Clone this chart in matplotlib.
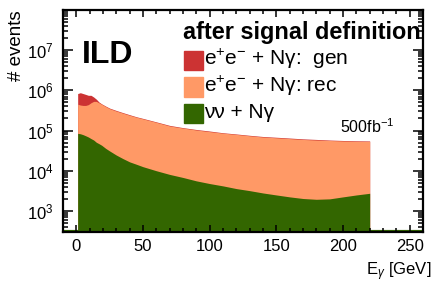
import matplotlib
matplotlib.use("Agg")
import matplotlib.pyplot as plt
from matplotlib.patches import Rectangle
from matplotlib.ticker import LogLocator, NullFormatter, MultipleLocator
import numpy as np

plt.rcParams["font.family"] = ["Liberation Sans", "DejaVu Sans"]
plt.rcParams["mathtext.fontset"] = "custom"
plt.rcParams["mathtext.rm"] = "Liberation Sans"
plt.rcParams["mathtext.it"] = "Liberation Sans:italic"

# photon energy [GeV]
e_gamma = [1, 3, 5, 7, 9, 11, 13, 15, 17, 19, 22, 25, 30, 35, 40, 45, 50,
           60, 70, 80, 90, 100, 110, 120, 130, 140, 150, 160, 170, 180, 190,
           200, 210, 220]
# e+e- + N gamma, generator level
ee_gen = [8.3e5, 8.7e5, 8.3e5, 7.9e5, 7.5e5, 7.5e5, 6.8e5, 6.0e5, 5.1e5, 4.6e5,
          4.05e5, 3.6e5, 3.15e5, 2.78e5, 2.47e5, 2.2e5, 2.0e5,
          1.64e5, 1.34e5, 1.18e5, 1.06e5, 9.7e4, 8.8e4, 8.2e4, 7.6e4, 7.1e4,
          6.8e4, 6.5e4, 6.2e4, 6.0e4, 5.8e4, 5.65e4, 5.55e4, 5.5e4]
# e+e- + N gamma, reconstructed
ee_rec = [4.5e5, 4.3e5, 4.2e5, 4.2e5, 4.4e5, 4.9e5, 5.3e5, 5.3e5, 4.9e5, 4.5e5,
          3.95e5, 3.5e5, 3.05e5, 2.7e5, 2.4e5, 2.15e5, 1.95e5,
          1.6e5, 1.3e5, 1.15e5, 1.03e5, 9.4e4, 8.6e4, 8.0e4, 7.4e4, 6.9e4,
          6.6e4, 6.3e4, 6.0e4, 5.8e4, 5.65e4, 5.5e4, 5.4e4, 5.35e4]
# nu nu + N gamma
nunu = [8.5e4, 8.3e4, 7.9e4, 7.4e4, 6.9e4, 6.3e4, 5.8e4, 5.1e4, 4.7e4, 4.3e4,
        3.6e4, 3.1e4, 2.45e4, 2.0e4, 1.66e4, 1.45e4, 1.26e4,
        1.0e4, 8.1e3, 6.8e3, 5.6e3, 4.8e3, 4.2e3, 3.6e3, 3.2e3, 2.8e3,
        2.5e3, 2.24e3, 2.04e3, 1.95e3, 2.0e3, 2.24e3, 2.5e3, 2.75e3]

RED = "#CC3333"
ORANGE = "#FF9966"
GREEN = "#336600"
YMIN, YMAX = 3e2, 9.9e7

W, H = 433, 282
fig = plt.figure(figsize=(W / 100, H / 100), dpi=100)
ax = fig.add_axes([63 / W, 1 - 232 / H, 360 / W, 222 / H])

x = np.array(e_gamma, dtype=float)
ax.fill_between(x, YMIN, ee_gen, color=RED, lw=0, zorder=1)
ax.fill_between(x, YMIN, ee_rec, color=ORANGE, lw=0, zorder=1.1)
ax.fill_between(x, YMIN, nunu, color=GREEN, lw=0, zorder=1.2)
ax.axhline(YMIN, color=GREEN, lw=3, zorder=1.3)

ax.set_yscale("log")
ax.set_xlim(-10, 260)
ax.set_ylim(YMIN, YMAX)
ax.xaxis.set_major_locator(MultipleLocator(50))
ax.xaxis.set_minor_locator(MultipleLocator(10))
ax.yaxis.set_major_locator(LogLocator(base=10))
ax.yaxis.set_minor_locator(LogLocator(base=10, subs=np.arange(2, 10)))
ax.yaxis.set_minor_formatter(NullFormatter())

ax.tick_params(which="both", direction="in", top=True, right=True,
               width=1.1, labelsize=12, colors="black")
ax.tick_params(axis="x", which="major", length=5, pad=5)
ax.tick_params(axis="x", which="minor", length=3)
ax.tick_params(axis="y", which="major", length=7, pad=7)
ax.tick_params(axis="y", which="minor", length=3.5)
for sp in ax.spines.values():
    sp.set_linewidth(1.6)
    sp.set_zorder(3)

ax.set_ylabel("# events", fontsize=13.5, loc="top", labelpad=1)
fig.text(431 / W, 1 - 275 / H, r"E$_{\gamma}$ [GeV]", fontsize=12,
         ha="right", va="baseline")

# labels
fig.text(82 / W, 1 - 63 / H, "ILD", fontsize=23, fontweight="bold",
         va="baseline")
fig.text(183 / W, 1 - 39 / H, "after signal definition", fontsize=16.9,
         fontweight="bold", va="baseline")

entries = [(RED, r"e$^{+}$e$^{-}$ + Nγ:  gen", 51),
           (ORANGE, r"e$^{+}$e$^{-}$ + Nγ: rec", 77.5),
           (GREEN, "νν + Nγ", 104)]
for col, lab, top in entries:
    fig.patches.append(Rectangle((184 / W, 1 - (top + 19) / H), 19 / W, 19 / H,
                                 transform=fig.transFigure, color=col))
    fig.text(204 / W, 1 - (top + 14) / H, lab, fontsize=15, va="baseline")

fig.text(340 / W, 1 - 133 / H, r"500fb$^{-1}$", fontsize=11.5, va="baseline")

fig.savefig("out.png", dpi=100)
